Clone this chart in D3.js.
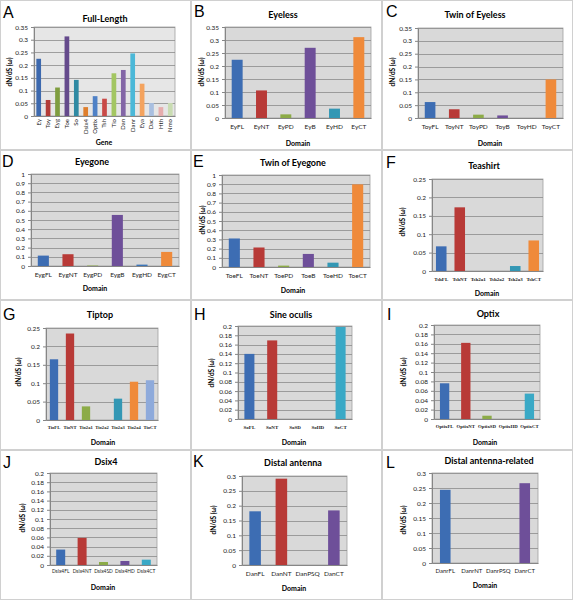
<!DOCTYPE html>
<html><head><meta charset="utf-8">
<script src="https://cdn.jsdelivr.net/npm/d3@7"></script>
<style>body{margin:0;background:#fff}svg{display:block}</style>
</head><body>
<svg id="c" width="573" height="600"></svg>
<script>
// ---------- DATA ----------
const aCats = ["Ey","Toy","Eyg","Toe","So","Dsix4","Optix","Tsh","Tio","Dan","Danr","Eya","Dac","Hth","Nmo"];
const aVals = [0.225,0.063,0.112,0.313,0.142,0.035,0.078,0.068,0.168,0.181,0.246,0.127,0.051,0.035,0.051];
const bCats = ["EyFL","EyNT","EyPD","EyB","EyHD","EyCT"];
const bVals = [0.224,0.106,0.014,0.270,0.036,0.311];
const cCats = ["ToyFL","ToyNT","ToyPD","ToyB","ToyHD","ToyCT"];
const cVals = [0.062,0.034,0.013,0.010,0,0.150];
const dCats = ["EygFL","EygNT","EygPD","EygB","EygHD","EygCT"];
const dVals = [0.113,0.128,0.005,0.555,0.015,0.153];
const eCats = ["ToeFL","ToeNT","ToePD","ToeB","ToeHD","ToeCT"];
const eVals = [0.310,0.212,0.015,0.142,0.047,0.898];
const fCats = ["TshFL","TshNT","Tsh2a1","Tsh2a2","Tsh2a3","TshCT"];
const fVals = [0.067,0.173,0,0,0.0135,0.083];
const gCats = ["TioFL","TioNT","Tio2a1","Tio2a2","Tio2a3","Tio2a4","TioCT"];
const gVals = [0.165,0.235,0.037,0,0.058,0.104,0.108];
const hCats = ["SoFL","SoNT","SoSD","SoHD","SoCT"];
const hVals = [0.140,0.169,0,0,0.198];
const iCats = ["OptixFL","OptixNT","OptixSD","OptixHD","OptixCT"];
const iVals = [0.076,0.162,0.007,0,0.054];
const jCats = ["Dsix4FL","Dsix4NT","Dsix4SD","Dsix4HD","Dsix4CT"];
const jVals = [0.0335,0.059,0.0065,0.0087,0.0116];
const kCats = ["DanFL","DanNT","DanPSQ","DanCT"];
const kVals = [0.181,0.291,0,0.184];
const lCats = ["DanrFL","DanrNT","DanrPSQ","DanrCT"];
const lVals = [0.244,0,0,0.266];
const yTicksA = [0,0.05,0.1,0.15,0.2,0.25,0.3,0.35];
const yTicksD = [0,0.1,0.2,0.3,0.4,0.5,0.6,0.7,0.8,0.9,1];
const yTicksF = [0,0.05,0.1,0.15,0.2,0.25];
const yTicksH = [0,0.02,0.04,0.06,0.08,0.1,0.12,0.14,0.16,0.18,0.2];
const yTicksK = [0,0.05,0.1,0.15,0.2,0.25,0.3];

// ---------- STYLE ----------
const C = {blue:"#3d6db3",red:"#b83a37",green:"#8cab47",purple:"#6e4f99",teal:"#3397b4",orange:"#ef8a3a",
  lblue:"#8eaadb",cyan:"#4bb6d6"};
const aColors = ["#3d69ae","#b33c37","#7f9d3f","#654a8c","#2f8aa3","#de7e2c","#4f81c6","#c94a47","#a3c661","#8366a6","#4bb8d8","#f4a35e","#a9bfe0","#e6adad","#c9dcb2"];
const std6 = [C.blue,C.red,C.green,C.purple,C.teal,C.orange];
const FONT = 'Lato, "Open Sans", "Liberation Sans", sans-serif';
const svg = d3.select("#c").style("font-family", FONT);
const fmt = d => String(+d.toFixed(2));

// panel frames
[[0,0],[191,0],[382,0],[0,150],[191,150],[382,150],[0,300],[191,300],[382,300],[0,450],[191,450],[382,450]]
 .forEach(([x,y]) => svg.append("rect").attr("x",x+0.5).attr("y",y+0.5).attr("width",190).attr("height",149)
   .attr("fill","none").attr("stroke","#d0d0d0"));

function panel(o) {
  const g = svg.append("g");
  const x = d3.scaleBand().domain(o.cats).range([o.x0,o.x1]).paddingInner(o.pad).paddingOuter(o.pad/2);
  const y = d3.scaleLinear().domain([0,o.ticks[o.ticks.length-1]]).range([o.y1,o.y0]);
  g.append("rect").attr("x",o.x0).attr("y",o.y0).attr("width",o.x1-o.x0).attr("height",o.y1-o.y0)
    .attr("fill",o.bg||"#d9d9d9").attr("stroke","#a0a0a0").attr("stroke-width",0.8);
  g.selectAll(".gl").data(o.ticks.slice(1)).join("line")
    .attr("x1",o.x0).attr("x2",o.x1).attr("y1",d=>Math.round(y(d))+0.5).attr("y2",d=>Math.round(y(d))+0.5)
    .attr("stroke","#8c8c8c").attr("stroke-width",0.8);
  g.selectAll(".bar").data(o.vals).join("rect")
    .attr("x",(d,i)=>x(o.cats[i])).attr("width",x.bandwidth())
    .attr("y",d=>y(d)).attr("height",d=>o.y1-y(d))
    .attr("fill",(d,i)=>o.colors[i]);
  // y axis
  const ya = g.append("g").attr("transform",`translate(${o.x0},0)`)
    .call(d3.axisLeft(y).tickValues(o.ticks).tickFormat(fmt).tickSize(3).tickPadding(3));
  ya.select(".domain").attr("stroke","#868686");
  ya.selectAll(".tick line").attr("stroke","#868686");
  ya.selectAll("text").attr("font-size",o.yfs||6.5).attr("fill","#222").attr("font-family",FONT);
  // x axis
  const xa = g.append("g").attr("transform",`translate(0,${o.y1})`)
    .call(d3.axisBottom(x).tickSize(0).tickPadding(o.xpad||6));
  xa.select(".domain").attr("stroke","#868686");
  const xt = xa.selectAll("text").attr("font-size",o.xfs||6.5).attr("fill","#222")
    .attr("font-family",o.xfont||FONT).attr("font-weight",o.xbold?"bold":null);
  if (o.rot) xt.attr("transform","rotate(-90)").attr("text-anchor","end").attr("dx","-3").attr("y",0).attr("x",0)
    .attr("dy","0.32em");
  // titles
  g.append("text").attr("x",o.tx).attr("y",o.ty).attr("text-anchor","middle").attr("font-size",9).attr("font-weight","bold").text(o.title);
  g.append("text").attr("x",o.lx).attr("y",o.ly).attr("font-size",16).attr("font-family",'"Liberation Sans", Arial, sans-serif').text(o.letter);
  g.append("text").attr("x",o.xtx).attr("y",o.xty).attr("text-anchor","middle").attr("font-size",7).attr("font-weight","bold").text(o.xtitle||"Domain");
  if (o.ytx!==undefined) g.append("text").attr("transform",`translate(${o.ytx},${o.yty}) rotate(-90)`)
    .attr("text-anchor","middle").attr("font-size",6.5).attr("font-weight","bold").text("dN/dS (ω)");
}

panel({letter:"A",lx:3,ly:18,title:"Full-Length",tx:105,ty:22,cats:aCats,vals:aVals,colors:aColors,ticks:yTicksA,
  x0:34,x1:175,y0:27,y1:116,pad:0.5,rot:true,xfs:6,xpad:3,xtitle:"Gene",xtx:104,xty:145,ytx:12,yty:72,bg:"#e6e6e6"});
panel({letter:"B",lx:194,ly:17,title:"Eyeless",tx:283,ty:18,cats:bCats,vals:bVals,colors:std6,ticks:yTicksA,
  x0:225,x1:371,y0:27,y1:118,pad:0.55,xtx:298,xty:146,ytx:204,yty:72});
panel({letter:"C",lx:386,ly:17,title:"Twin of Eyeless",tx:475,ty:18,cats:cCats,vals:cVals,colors:[C.blue,C.red,C.green,C.purple,C.teal,C.orange],ticks:yTicksA,
  x0:418,x1:563,y0:28,y1:118,pad:0.56,xtx:490,xty:146,ytx:395,yty:72});
panel({letter:"D",lx:2,ly:167,title:"Eyegone",tx:92,ty:165,cats:dCats,vals:dVals,colors:[C.blue,C.red,C.green,C.purple,"#3b75b8",C.orange],ticks:yTicksD,
  x0:31,x1:179,y0:174,y1:266,pad:0.55,xtx:95,xty:291});
panel({letter:"E",lx:193,ly:167,title:"Twin of Eyegone",tx:293,ty:166,cats:eCats,vals:eVals,colors:[C.blue,C.red,C.green,C.purple,C.teal,C.orange],ticks:yTicksD,
  x0:222,x1:370,y0:175,y1:267,pad:0.55,xtx:293,xty:293,ytx:205,yty:220});
panel({letter:"F",lx:386,ly:168,title:"Teashirt",tx:484,ty:169,cats:fCats,vals:fVals,colors:[C.blue,C.red,C.green,C.purple,C.teal,C.orange],ticks:yTicksF,
  x0:432,x1:543,y0:179,y1:271,pad:0.43,xfs:5,xfont:'"Liberation Serif", serif',xbold:true,xtx:487,xty:296,ytx:405,yty:222});
panel({letter:"G",lx:3,ly:320,title:"Tiptop",tx:100,ty:318,cats:gCats,vals:gVals,colors:[C.blue,C.red,C.green,C.purple,C.teal,C.orange,C.lblue],ticks:yTicksF,
  x0:46,x1:158,y0:328,y1:420,pad:0.48,xfs:4.6,xfont:'"Liberation Serif", serif',xbold:true,xtx:103,xty:445,ytx:21,yty:372});
panel({letter:"H",lx:194,ly:320,title:"Sine oculis",tx:291,ty:318,cats:hCats,vals:hVals,colors:[C.blue,C.red,C.green,C.purple,"#3aa9c6"],ticks:yTicksH,
  x0:238,x1:352,y0:326,y1:419,pad:0.56,xfs:5,xfont:'"Liberation Serif", serif',xbold:true,xtx:294,xty:445,ytx:214,yty:373});
panel({letter:"I",lx:387,ly:320,title:"Optix",tx:488,ty:317,cats:iCats,vals:iVals,colors:[C.blue,C.red,C.green,C.purple,"#3aa9c6"],ticks:yTicksH,
  x0:434,x1:540,y0:325,y1:419,pad:0.56,xfs:4.8,xfont:'"Liberation Serif", serif',xbold:true,xtx:485,xty:445,ytx:406,yty:372});
panel({letter:"J",lx:3,ly:468,title:"Dsix4",tx:106,ty:465,cats:jCats,vals:jVals,colors:[C.blue,C.red,C.green,C.purple,"#3aa9c6"],ticks:yTicksH,
  x0:50,x1:157,y0:473,y1:565,pad:0.58,xfs:4.9,xpad:5,xtx:103,xty:590,ytx:25,yty:518});
panel({letter:"K",lx:193,ly:467,title:"Distal antenna",tx:293,ty:466,cats:kCats,vals:kVals,colors:[C.blue,C.red,C.green,C.purple],ticks:yTicksK,
  x0:242,x1:347,y0:476,y1:565,pad:0.56,xtx:294,xty:591,ytx:216,yty:520});
panel({letter:"L",lx:386,ly:468,title:"Distal antenna-related",tx:489,ty:464,cats:lCats,vals:lVals,colors:[C.blue,C.red,C.green,C.purple],ticks:yTicksK,
  x0:432,x1:538,y0:473,y1:563,pad:0.6,xfs:6,xtx:485,xty:588,ytx:406,yty:520});
</script>
</body></html>
